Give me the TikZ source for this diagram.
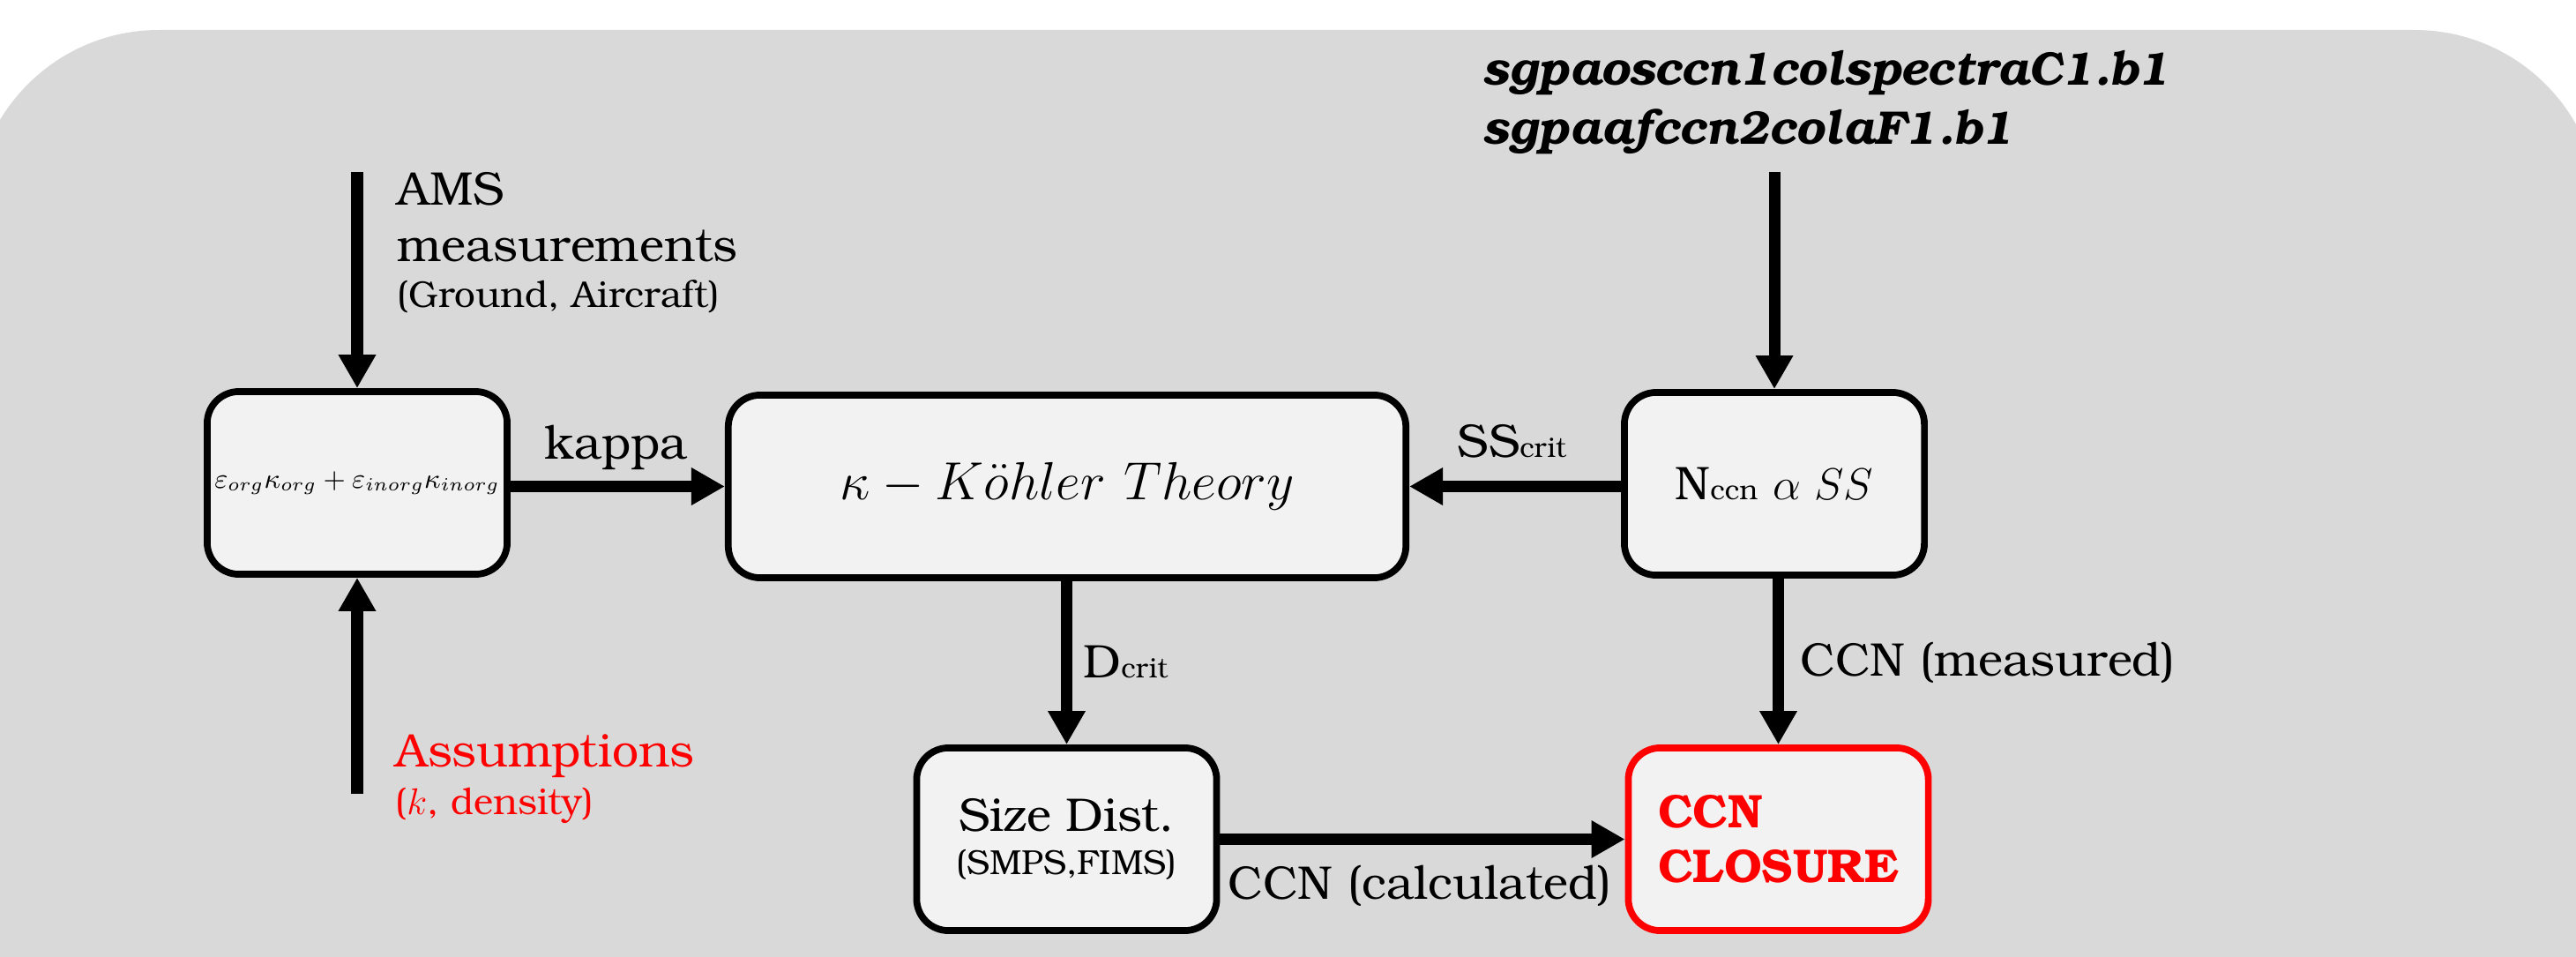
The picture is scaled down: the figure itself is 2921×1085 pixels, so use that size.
\documentclass[tikz,border=0pt]{standalone}
\usepackage{fontspec}
\setmainfont{TeX Gyre Bonum}
\usetikzlibrary{arrows.meta,calc}
\definecolor{panel}{HTML}{D9D9D9}
\definecolor{boxfill}{HTML}{F2F2F2}
\definecolor{alert}{HTML}{FF0000}
\newcommand{\lbl}{\fontsize{15.2}{17.5}\selectfont}
\newcommand{\sml}{\fontsize{12}{14}\selectfont}
\newcommand{\lowsub}[1]{{\fontsize{9}{10}\selectfont #1}}

\begin{document}
\begin{tikzpicture}[x=0.01cm,y=-0.01cm,
  stage/.style={draw=black, line width=2.2pt, fill=boxfill, rounded corners=0.36cm,
    minimum width=3.4cm, minimum height=2.07cm, inner sep=2pt, align=center},
  flow/.style={line width=3.7pt, -{Triangle[length=10.8pt,width=11.4pt]}},
  txt/.style={inner sep=0pt, anchor=base west, font=\lbl},
]
% page frame and grey panel
\useasboundingbox (0,0) rectangle (2921,1085);
\begin{scope}
  \clip (0,0) rectangle (2921,1085);
  \fill[panel, rounded corners=2.1cm] (-30,34) rectangle (2948,1500);
\end{scope}

% process boxes
\node[stage, font=\fontsize{8.8}{10}\selectfont] (mix) at (405,547.5)
  {$\varepsilon_{org}\kappa_{org}+\varepsilon_{inorg}\kappa_{inorg}$};
\node[stage, minimum width=7.68cm, font=\fontsize{18.4}{20}\selectfont] (kohler) at (1210,551.5)
  {$\kappa - K\ddot{o}hler\ Theory$};
\node[stage, font=\lbl] (nccn) at (2012,548.5)
  {N\lowsub{ccn} {\fontsize{13.5}{16}\selectfont$\alpha\ SS$}};
\node[stage, font=\lbl] (size) at (1209.5,951.5)
  {Size Dist.\\[-3.5pt]{\fontsize{11.2}{13}\selectfont(SMPS,FIMS)}};
\node[stage, draw=alert, align=left, text=alert, font=\lbl\bfseries] (closure) at (2016.5,951.5)
  {CCN\\[0pt]CLOSURE};

% inputs
\node[txt] (ams1) at (450,232) {AMS};
\node[txt] (ams2) at (450,297) {measurements};
\node[txt, font=\sml] (ams3) at (450,348) {(Ground, Aircraft)};
\node[txt, text=alert] (asm1) at (448,869) {Assumptions};
\node[txt, text=alert, font=\sml] (asm2) at (448,923) {($k$, density)};
\node[txt, font=\lbl\bfseries\itshape] (ds1) at (1681,97) {sgpaosccn1colspectraC1.b1};
\node[txt, font=\lbl\bfseries\itshape] (ds2) at (1681,163) {sgpaafccn2colaF1.b1};

\coordinate (amsin) at (405,195);
\coordinate (asmin) at (405,900);
\coordinate (dsin) at (2012,195);

% connectors
\draw[flow] (amsin) -- (mix.north);
\draw[flow] (asmin) -- (mix.south);
\draw[flow] (mix.east |- kohler.west) -- (kohler.west);
\draw[flow] (nccn.west |- kohler.east) -- (kohler.east);
\draw[flow] (dsin) -- (nccn.north);
\draw[flow] (kohler.south -| size.north) -- (size.north);
\draw[flow] (nccn.south -| closure.north) -- (closure.north);
\draw[flow] (size.east) -- (closure.west);

% connector labels
\node[txt] (lkappa) at (617,520) {kappa};
\node[txt] (lss) at (1652,518) {SS\lowsub{crit}};
\node[txt] (ld) at (1228,768) {D\lowsub{crit}};
\node[txt] (lmeas) at (2041,766) {CCN (measured)};
\node[txt] (lcalc) at (1392,1019) {CCN (calculated)};
\end{tikzpicture}
\end{document}
